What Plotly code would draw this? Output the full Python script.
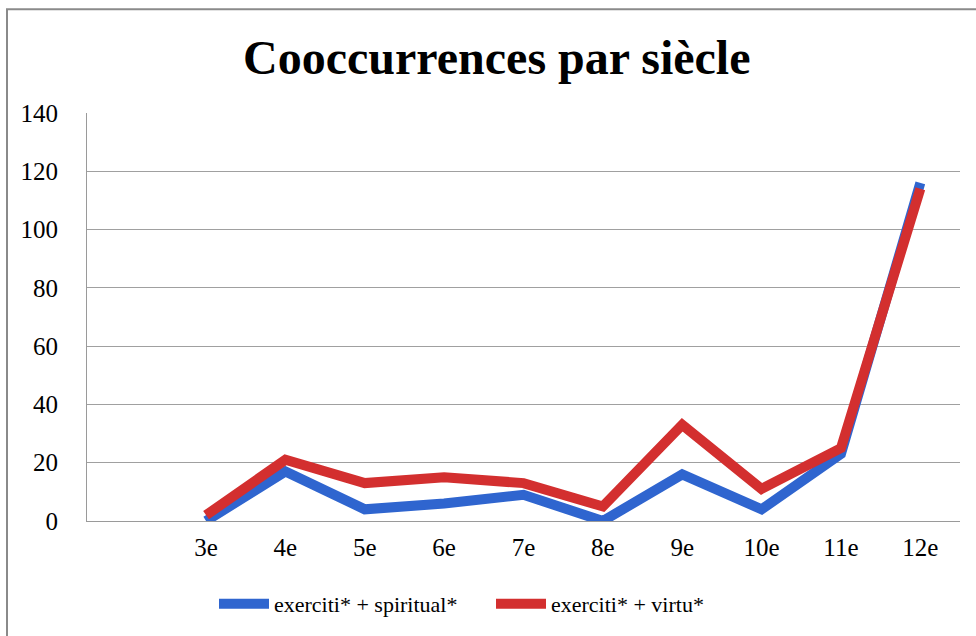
import plotly.graph_objects as go

categories = [" ", "3e", "4e", "5e", "6e", "7e", "8e", "9e", "10e", "11e", "12e"]
spiritual = [None, 0, 17, 4, 6, 9, 0, 16, 4, 23, 116]
virtu = [None, 2, 21, 13, 15, 13, 5, 33, 11, 25, 114]
series_names = ["exerciti* + spiritual*", "exerciti* + virtu*"]
y_ticks = [0, 20, 40, 60, 80, 100, 120, 140]

W, H = 976, 636
ML, MR, MT, MB = 87, 16, 113, 114
pw, ph = W - ML - MR, H - MT - MB

def px_x(p):
    return (p - ML) / pw

def px_y(p):
    return (H - MB - p) / ph

fig = go.Figure()
fig.add_trace(go.Scatter(x=categories, y=spiritual, mode="lines", name=series_names[0],
                         line=dict(color="#2f65cf", width=10), connectgaps=False))
fig.add_trace(go.Scatter(x=categories, y=virtu, mode="lines", name=series_names[1],
                         line=dict(color="#d32f2f", width=10), connectgaps=False))

serif = "Liberation Serif"
fig.update_layout(
    width=W, height=H,
    margin=dict(l=ML, r=MR, t=MT, b=MB),
    paper_bgcolor="white", plot_bgcolor="white",
    title=dict(text="<b>Cooccurrences par siècle</b>", x=0.509, xref="container", xanchor="center",
               y=1 - 57 / H, yref="container", yanchor="middle",
               font=dict(family=serif, size=48, color="black")),
    showlegend=True,
    legend=dict(orientation="h", x=px_x(214), xanchor="left", y=px_y(604), yanchor="middle",
                font=dict(family=serif, size=22, color="black"), bgcolor="rgba(0,0,0,0)",
                itemwidth=50, entrywidth=212),
    xaxis=dict(type="category", categoryorder="array", categoryarray=categories,
               range=[-0.5, len(categories) - 0.5], showgrid=False, showline=True,
               linecolor="#9a9a9a", linewidth=1, ticks="", zeroline=False,
               tickfont=dict(family=serif, size=25, color="black"), ticklabelstandoff=4),
    yaxis=dict(range=[0, 140], tickvals=y_ticks, showgrid=True, gridcolor="#a0a0a0", gridwidth=1,
               showline=True, linecolor="#9a9a9a", linewidth=1, ticks="", zeroline=False,
               tickfont=dict(family=serif, size=25, color="black"), ticklabelstandoff=23),
    shapes=[dict(type="rect", xref="paper", yref="paper",
                 x0=px_x(7), x1=px_x(W + 20), y0=px_y(H + 20), y1=px_y(9),
                 line=dict(color="#8a8a8a", width=2), fillcolor="rgba(0,0,0,0)", layer="below")],
)

fig.write_html("out.html", config={"displayModeBar": False},
               post_script="document.body.style.margin='0';document.body.style.padding='0';")
